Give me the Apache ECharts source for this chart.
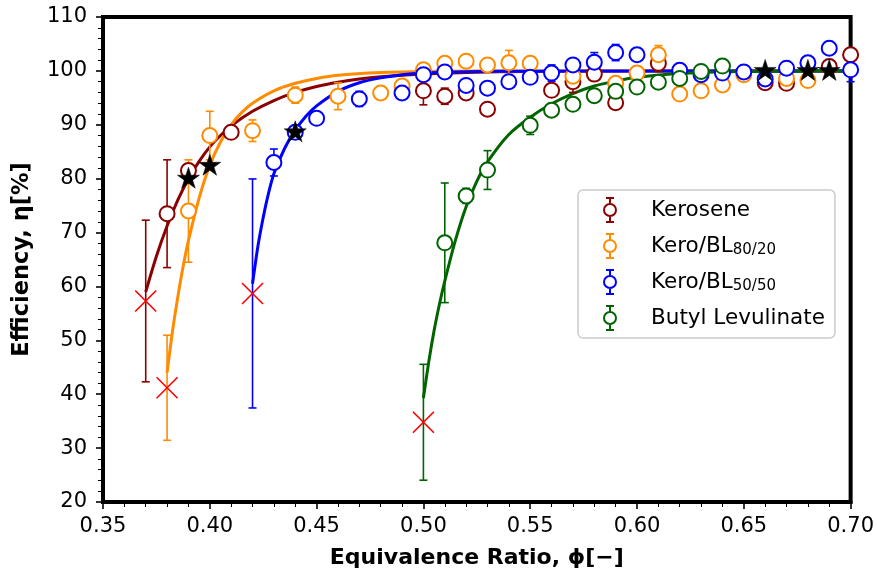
<!DOCTYPE html>
<html>
<head>
<meta charset="utf-8">
<script src="https://cdn.jsdelivr.net/npm/echarts@6/dist/echarts.min.js"></script>
<style>
html,body{margin:0;padding:0;background:#fff;}
#chart{width:877px;height:574px;}
</style>
</head>
<body>
<div id="chart"></div>
<script>
// ---------------- DATA ----------------
const seriesNames = ['Kerosene', 'Kero/BL80/20', 'Kero/BL50/50', 'Butyl Levulinate'];

// lean-limit points (red crosses) : [phi, eta, err]
const keroLimit = [0.37, 57.3, 15.0];
const k82Limit  = [0.38, 41.2, 9.75];
const k55Limit  = [0.42, 58.7, 21.25];
const blLimit   = [0.50, 34.8, 10.75];

// Kerosene
const keroX   = [0.38, 0.39, 0.41, 0.50, 0.51, 0.52, 0.53, 0.56, 0.57, 0.58, 0.59, 0.61, 0.66, 0.67, 0.69, 0.70];
const keroY   = [73.5, 81.5, 88.6, 96.3, 95.3, 95.9, 92.9, 96.4, 98.0, 99.4, 94.1, 101.4, 97.8, 97.7, 100.8, 103.0];
const keroErr = [10.0, 1.2, 0, 2.6, 1.5, 0, 0, 0, 2.0, 0, 0, 1.5, 0, 0, 0, 0];

// Kero/BL 80/20
const k82X   = [0.39, 0.40, 0.42, 0.44, 0.46, 0.48, 0.49, 0.50, 0.51, 0.52, 0.53, 0.54, 0.55, 0.57, 0.59, 0.60, 0.61, 0.62, 0.63, 0.64, 0.65, 0.67, 0.68];
const k82Y   = [74.0, 88.0, 88.9, 95.5, 95.3, 95.9, 97.2, 100.2, 101.4, 101.8, 101.1, 101.5, 101.4, 99.0, 97.7, 99.6, 103.0, 95.7, 96.3, 97.4, 99.3, 98.6, 98.2];
const k82Err = [9.5, 4.5, 2.0, 1.5, 2.5, 1.2, 0, 0, 0, 0, 0, 2.3, 0, 0, 0, 0, 1.7, 0, 0, 0, 0, 0, 0];

// Kero/BL 50/50
const k55X   = [0.43, 0.44, 0.45, 0.47, 0.49, 0.50, 0.51, 0.52, 0.53, 0.54, 0.55, 0.56, 0.57, 0.58, 0.59, 0.60, 0.62, 0.63, 0.64, 0.65, 0.66, 0.67, 0.68, 0.69, 0.70];
const k55Y   = [83.0, 88.6, 91.2, 94.8, 95.9, 99.3, 99.8, 97.3, 96.8, 98.0, 98.8, 99.6, 101.1, 101.6, 103.4, 103.0, 100.1, 99.3, 99.6, 99.8, 98.5, 100.5, 101.5, 104.2, 100.2];
const k55Err = [2.5, 1.2, 0, 1.4, 0, 1.9, 0, 0, 0, 0, 0, 1.5, 1.1, 1.8, 1.5, 0, 0, 0, 0, 0, 0, 1.2, 0, 0, 2.2];

// Butyl Levulinate
const blX   = [0.51, 0.52, 0.53, 0.55, 0.56, 0.57, 0.58, 0.59, 0.60, 0.61, 0.62, 0.63, 0.64];
const blY   = [68.1, 76.8, 81.6, 89.9, 92.7, 93.8, 95.4, 96.2, 97.0, 97.9, 98.6, 99.9, 100.9];
const blErr = [11.1, 1.4, 3.6, 1.7, 0, 0, 0, 1.0, 0, 0, 0, 0, 0];

// black stars
const starX = [0.39, 0.40, 0.44, 0.66, 0.68, 0.69];
const starY = [80.0, 82.4, 88.6, 100.0, 100.0, 100.0];

// fitted curves
const keroFitX = [0.37, 0.375, 0.38, 0.385, 0.39, 0.395, 0.40, 0.405, 0.41, 0.42, 0.43, 0.44, 0.45, 0.46, 0.47, 0.48, 0.50, 0.52, 0.55, 0.60, 0.70];
const keroFitY = [59.0, 65.6, 71.2, 76.0, 80.0, 83.2, 85.9, 88.0, 89.8, 92.5, 94.5, 96.0, 97.1, 97.9, 98.5, 98.9, 99.4, 99.7, 99.9, 100.0, 100.0];
const k82FitX  = [0.38, 0.3825, 0.385, 0.3875, 0.39, 0.395, 0.40, 0.405, 0.41, 0.415, 0.42, 0.43, 0.44, 0.45, 0.46, 0.48, 0.50, 0.55, 0.70];
const k82FitY  = [44.0, 51.6, 58.0, 63.7, 68.5, 76.4, 82.5, 86.8, 90.0, 92.3, 94.0, 96.3, 97.7, 98.6, 99.2, 99.7, 99.9, 100.0, 100.0];
const k55FitX  = [0.42, 0.4225, 0.425, 0.4275, 0.43, 0.435, 0.44, 0.445, 0.45, 0.46, 0.47, 0.48, 0.49, 0.50, 0.52, 0.55, 0.70];
const k55FitY  = [60.5, 67.4, 72.8, 77.3, 80.9, 85.6, 89.0, 91.6, 93.5, 96.2, 97.8, 98.7, 99.3, 99.6, 99.85, 99.95, 100.0];
const blFitX   = [0.50, 0.5025, 0.505, 0.5075, 0.51, 0.515, 0.52, 0.525, 0.53, 0.54, 0.55, 0.56, 0.57, 0.58, 0.59, 0.60, 0.62, 0.64, 0.67, 0.70];
const blFitY   = [39.3, 46.0, 51.8, 56.7, 61.0, 68.6, 74.8, 79.5, 83.1, 88.2, 91.4, 93.9, 95.8, 97.2, 98.1, 98.8, 99.5, 99.85, 99.95, 100.0];

// axis ticks
const xMin = 0.35, xMax = 0.70, xStep = 0.05;
const yMin = 20, yMax = 110, yStep = 10;

// ---------------- STYLE ----------------
const colors = ['#8B0000', '#FF8C00', '#0000FF', '#006400'];
const FONT = 'DejaVu Sans';
const STAR = 'path://M0,-100 L22.45,-30.9 L95.1,-30.9 L36.3,11.8 L58.8,80.9 L0,38.2 L-58.8,80.9 L-36.3,11.8 L-95.1,-30.9 L-22.45,-30.9 Z';
const CROSS = 'path://M0,0 L10,10 M10,0 L0,10';
const LEGICON = 'path://M-6,0 A6,6 0 1,1 6,0 A6,6 0 1,1 -6,0 Z M0,-6 L0,-12 M-4,-12 L4,-12 M0,6 L0,12 M-4,12 L4,12';

const zip3 = (xs, ys, es) => xs.map((x, i) => [x, ys[i], es ? es[i] : 0]);
const zip2 = (xs, ys) => xs.map((x, i) => [x, ys[i]]);

const groups = [
  {limit: keroLimit, x: keroX, y: keroY, e: keroErr, fx: keroFitX, fy: keroFitY},
  {limit: k82Limit,  x: k82X,  y: k82Y,  e: k82Err,  fx: k82FitX,  fy: k82FitY},
  {limit: k55Limit,  x: k55X,  y: k55Y,  e: k55Err,  fx: k55FitX,  fy: k55FitY},
  {limit: blLimit,   x: blX,   y: blY,   e: blErr,   fx: blFitX,   fy: blFitY},
];

function errRender(color) {
  return function (params, api) {
    const x = api.value(0), y = api.value(1), e = api.value(2);
    const t = api.coord([x, y + e]);
    const b = api.coord([x, y - e]);
    const hw = 4;
    const st = {stroke: color, lineWidth: 1.6};
    return {
      type: 'group',
      children: [
        {type: 'line', shape: {x1: t[0], y1: t[1], x2: b[0], y2: b[1]}, style: st},
        {type: 'line', shape: {x1: t[0] - hw, y1: t[1], x2: t[0] + hw, y2: t[1]}, style: st},
        {type: 'line', shape: {x1: b[0] - hw, y1: b[1], x2: b[0] + hw, y2: b[1]}, style: st}
      ]
    };
  };
}

const series = [];
groups.forEach((g, i) => {
  series.push({
    name: seriesNames[i] + ' fit', type: 'line', data: zip2(g.fx, g.fy),
    smooth: 0.25, showSymbol: false, silent: true,
    lineStyle: {color: colors[i], width: 3}, z: 2
  });
});
groups.forEach((g, i) => {
  const d = [g.limit].concat(zip3(g.x, g.y, g.e)).filter(r => r[2] > 0);
  series.push({
    name: seriesNames[i] + ' err', type: 'custom', data: d,
    renderItem: errRender(colors[i]), encode: {x: 0, y: 1}, z: 3, silent: true
  });
});
groups.forEach((g, i) => {
  series.push({
    name: seriesNames[i], type: 'scatter', data: zip2(g.x, g.y),
    symbol: 'circle', symbolSize: 15,
    itemStyle: {color: '#ffffff', borderColor: colors[i], borderWidth: 2, opacity: 1},
    z: 4
  });
});
series.push({
  name: 'limit', type: 'scatter',
  data: groups.map(g => [g.limit[0], g.limit[1]]),
  symbol: CROSS, symbolSize: 21,
  itemStyle: {color: 'none', borderColor: '#FF0000', borderWidth: 1.6, opacity: 1},
  z: 5
});
series.push({
  name: 'stars', type: 'scatter', data: zip2(starX, starY),
  symbol: STAR, symbolSize: [22, 21], symbolOffset: [0, -1],
  itemStyle: {color: '#000000', borderColor: '#000000', borderWidth: 0.5, opacity: 1},
  z: 6
});

const chart = echarts.init(document.getElementById('chart'), null, {renderer: 'canvas'});
chart.setOption({
  animation: false,
  backgroundColor: '#ffffff',
  textStyle: {fontFamily: FONT},
  grid: {left: 103, right: 26, top: 17, bottom: 71, show: true, borderColor: '#000', borderWidth: 4, backgroundColor: 'transparent'},
  xAxis: {
    type: 'value', min: xMin, max: xMax, interval: xStep,
    name: 'Equivalence Ratio, \u03d5[\u2212]', nameLocation: 'middle', nameGap: 45,
    nameTextStyle: {fontFamily: FONT, fontSize: 22, fontWeight: 'bold', color: '#000'},
    axisLine: {show: true, lineStyle: {color: '#000', width: 4}},
    axisTick: {show: true, length: 7, lineStyle: {color: '#000', width: 1.6}},
    minorTick: {show: true, splitNumber: 5, length: 5, lineStyle: {color: '#000', width: 1}},
    axisLabel: {fontFamily: FONT, fontSize: 21, color: '#000', margin: 14, formatter: v => v.toFixed(2)},
    splitLine: {show: false}, minorSplitLine: {show: false}
  },
  yAxis: {
    type: 'value', min: yMin, max: yMax, interval: yStep,
    name: 'Efficiency, \u03b7[%]', nameLocation: 'middle', nameGap: 69,
    nameTextStyle: {fontFamily: FONT, fontSize: 22.5, fontWeight: 'bold', color: '#000'},
    axisLine: {show: true, lineStyle: {color: '#000', width: 4}},
    axisTick: {show: true, length: 7, lineStyle: {color: '#000', width: 1.6}},
    minorTick: {show: true, splitNumber: 5, length: 5, lineStyle: {color: '#000', width: 1}},
    axisLabel: {fontFamily: FONT, fontSize: 21, color: '#000', margin: 16},
    splitLine: {show: false}, minorSplitLine: {show: false}
  },
  legend: {
    show: true, orient: 'vertical', left: 578, top: 190,
    data: seriesNames.map(n => ({name: n, icon: LEGICON})),
    itemWidth: 12, itemHeight: 24, itemGap: 10,
    padding: [7, 10, 7, 25],
    borderColor: '#cccccc', borderWidth: 1.5, borderRadius: 5,
    backgroundColor: 'rgba(255,255,255,0.85)',
    selectedMode: false,
    formatter: function (name) {
      if (name === 'Kero/BL80/20') return '{n|Kero/BL}{s|80/20}';
      if (name === 'Kero/BL50/50') return '{n|Kero/BL}{s|50/50}';
      return '{n|' + name + '}';
    },
    textStyle: {
      fontFamily: FONT, fontSize: 21, color: '#000', padding: [0, 0, 0, 30],
      rich: {
        n: {fontFamily: FONT, fontSize: 21.5, color: '#000'},
        s: {fontFamily: FONT, fontSize: 15, color: '#000', padding: [9, 0, 0, 0]}
      }
    }
  },
  series: series
});
</script>
</body>
</html>
